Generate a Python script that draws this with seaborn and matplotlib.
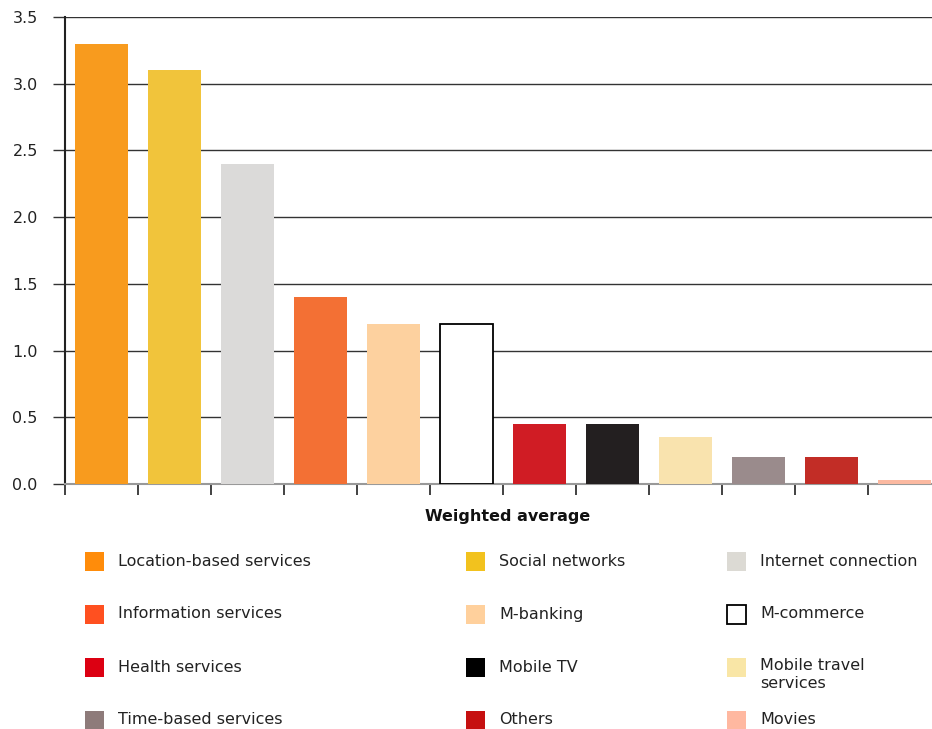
import matplotlib
matplotlib.use("Agg")
import matplotlib.pyplot as plt
from matplotlib.patches import Rectangle
import seaborn as sns
import pandas as pd

# Mobile services ranked by weighted average
categories = [
    "Location-based services", "Social networks", "Internet connection",
    "Information services", "M-banking", "M-commerce",
    "Health services", "Mobile TV", "Mobile travel\nservices",
    "Time-based services", "Others", "Movies",
]
values = [3.3, 3.1, 2.4, 1.4, 1.2, 1.2, 0.45, 0.45, 0.35, 0.2, 0.2, 0.03]
bar_colors = [
    "#F89B1E", "#F1C43B", "#DBDAD9",
    "#F37034", "#FDD19F", "#FFFFFF",
    "#D01C24", "#231F20", "#F9E3AE",
    "#9A8B8C", "#C22D26", "#FBB9A1",
]
legend_colors = [
    "#FF8C0A", "#F2C21E", "#DCDAD4",
    "#FF5020", "#FFD09C", "#FFFFFF",
    "#DC0012", "#000000", "#F9E6A6",
    "#8E7B7A", "#C61010", "#FFB8A0",
]
y_ticks = [0.0, 0.5, 1.0, 1.5, 2.0, 2.5, 3.0, 3.5]
x_label = "Weighted average"

W, H = 932, 729
plt.rcParams["font.family"] = ["DejaVu Sans"]

df = pd.DataFrame({"service": categories, "value": values})

fig = plt.figure(figsize=(W / 100, H / 100), dpi=100)


def fx(px):
    return px / W


def fy(py):
    return 1 - py / H


ax = fig.add_axes([fx(65), fy(484), fx(941) - fx(65), fy(17) - fy(484)])

sns.barplot(
    data=df, x="service", y="value", hue="service",
    palette=dict(zip(categories, bar_colors)), order=categories,
    width=0.73, dodge=False, legend=False, saturation=1, ax=ax,
)
for patch, cat in zip(ax.patches, categories):
    patch.set_zorder(3)
    if cat == "M-commerce":
        patch.set_edgecolor("#000000")
        patch.set_linewidth(1.3)
    else:
        patch.set_linewidth(0)

ax.set_xlim(-0.5, len(categories) - 0.5)
ax.set_ylim(0, 3.5)
ax.set_yticks(y_ticks)
ax.set_yticklabels([f"{t:.1f}" for t in y_ticks], fontsize=11.5, color="#222222")
ax.set_xticks([i - 0.5 for i in range(len(categories) + 1)])
ax.set_xticklabels([])
ax.yaxis.grid(True, color="#333333", linewidth=1.0, zorder=0)
ax.set_axisbelow(True)
ax.tick_params(axis="y", length=8.6, width=1.0, color="#333333", pad=11)
ax.tick_params(axis="x", length=8, width=1.3, color="#333333")
for side in ("top", "right"):
    ax.spines[side].set_visible(False)
ax.spines["left"].set_color("#222222")
ax.spines["left"].set_linewidth(1.5)
ax.spines["bottom"].set_color("#999999")
ax.spines["bottom"].set_linewidth(1.5)
ax.set_xlabel("")
ax.set_ylabel("")

fig.text(fx(508), fy(516), x_label, ha="center", va="center",
         fontsize=11.5, fontweight="bold", color="#111111")

# Legend laid out as a 3x4 grid, rows filled left to right
col_x = [85, 466, 727]
row_y = [561, 614, 667, 720]
sw = 19
for i, (name, col) in enumerate(zip(categories, legend_colors)):
    r, c = divmod(i, 3)
    x0, yc = col_x[c], row_y[r]
    edge = "#000000" if name == "M-commerce" else col
    fig.add_artist(Rectangle((fx(x0), fy(yc + sw / 2)), fx(sw), sw / H,
                             transform=fig.transFigure, facecolor=col,
                             edgecolor=edge, linewidth=1.3 if name == "M-commerce" else 0))
    if "\n" in name:
        fig.text(fx(x0 + 33), fy(yc - 9), name, ha="left", va="top",
                 fontsize=11.5, color="#222222", linespacing=1.25)
    else:
        fig.text(fx(x0 + 33), fy(yc), name, ha="left", va="center",
                 fontsize=11.5, color="#222222")

fig.savefig("out.png", dpi=100)
